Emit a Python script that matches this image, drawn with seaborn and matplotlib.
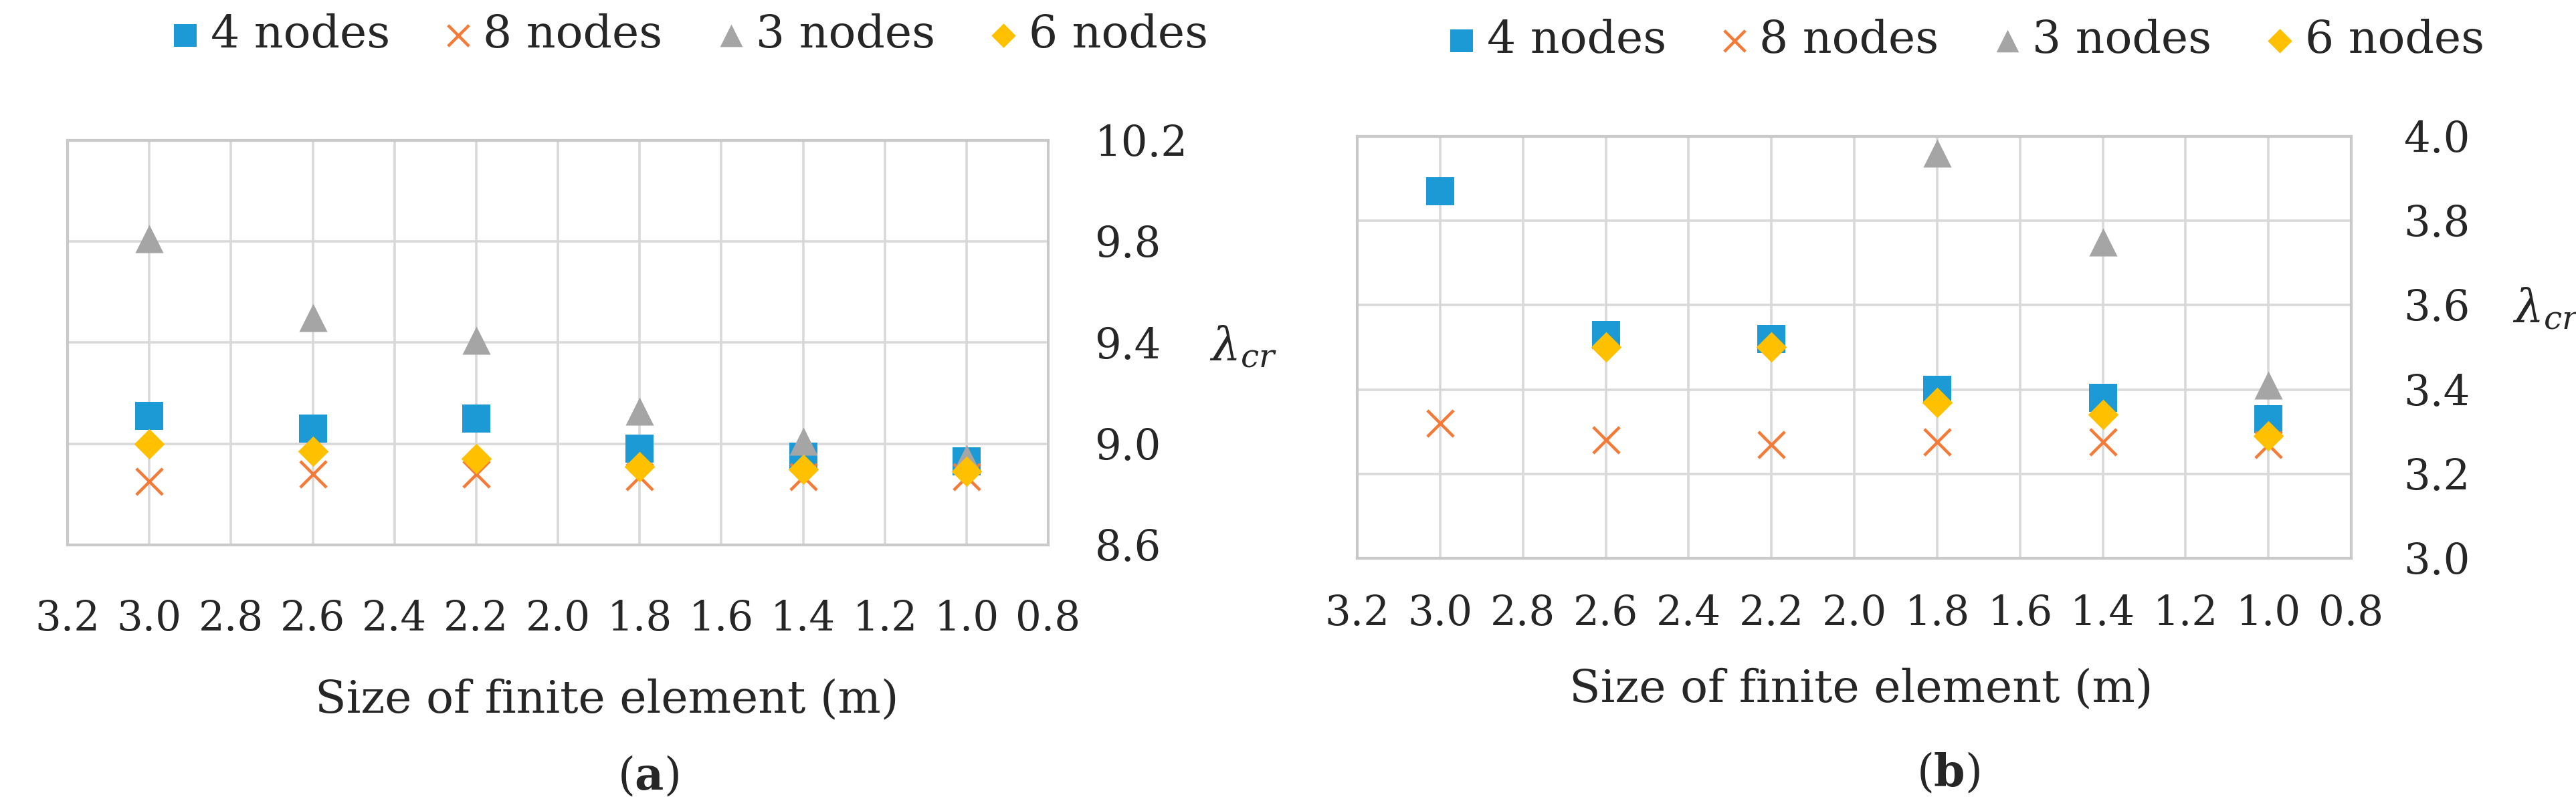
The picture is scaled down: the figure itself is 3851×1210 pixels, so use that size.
import numpy as np
import pandas as pd
import matplotlib
matplotlib.use('Agg')
import matplotlib.pyplot as plt
import seaborn as sns

# element sizes (m) on the x axis
sizes = [3.0, 2.6, 2.2, 1.8, 1.4, 1.0]

# panel (a) critical load factor
n4_a = [9.11, 9.06, 9.10, 8.98, 8.95, 8.93]
n8_a = [8.85, 8.88, 8.88, 8.87, 8.87, 8.87]
n3_a = [9.81, 9.50, 9.41, 9.13, 9.01, 8.94]
n6_a = [9.00, 8.97, 8.94, 8.91, 8.90, 8.89]

# panel (b) critical load factor (missing points are off the chart)
n4_b = [3.87, 3.53, 3.52, 3.40, 3.38, 3.33]
n8_b = [3.32, 3.28, 3.27, 3.275, 3.275, 3.27]
n3_b = [np.nan, np.nan, np.nan, 3.96, 3.75, 3.41]
n6_b = [np.nan, 3.50, 3.50, 3.37, 3.34, 3.29]

series_names = ['4 nodes', '8 nodes', '3 nodes', '6 nodes']
x_ticks = [3.2, 3.0, 2.8, 2.6, 2.4, 2.2, 2.0, 1.8, 1.6, 1.4, 1.2, 1.0, 0.8]
y_ticks_a = [8.6, 9.0, 9.4, 9.8, 10.2]
y_ticks_b = [3.0, 3.2, 3.4, 3.6, 3.8, 4.0]

sns.set_style('white')
plt.rcParams['font.family'] = ['DejaVu Serif']
plt.rcParams['mathtext.fontset'] = 'dejavuserif'

# marker, colour, size, linewidth for each series
styles = {
    '4 nodes': ('s', '#1b9ad6', 920, 0),
    '8 nodes': ('x', '#f47a38', 800, 3.2),
    '3 nodes': ('^', '#a5a5a5', 920, 0),
    '6 nodes': ('D', '#ffc000', 540, 0),
}

fig = plt.figure(figsize=(38.51, 12.10), dpi=100)
ax_a = fig.add_axes([0.02623, 0.32645, 0.38068, 0.5])
ax_b = fig.add_axes([0.52688, 0.30992, 0.38587, 0.52149])


def draw_panel(ax, values, yticks, xpad, ypad, leg_xy, lab_xy, lam_xy):
    for name, vals in zip(series_names, values):
        m, c, s, lw = styles[name]
        sns.scatterplot(x=sizes, y=vals, marker=m, color=c, s=s,
                        linewidth=lw, ax=ax, label=name, zorder=3)
    ax.set_xlim(3.2, 0.8)
    ax.set_ylim(yticks[0], yticks[-1])
    ax.set_xticks(x_ticks)
    ax.set_xticklabels([f'{t:.1f}' for t in x_ticks])
    ax.set_yticks(yticks)
    ax.set_yticklabels([f'{t:.1f}' for t in yticks])
    ax.yaxis.tick_right()
    ax.grid(True, color='#d9d9d9', lw=2.6)
    ax.set_axisbelow(True)
    for sp in ax.spines.values():
        sp.set_color('#c9c9c9')
        sp.set_linewidth(3)
    ax.tick_params(axis='x', length=0, pad=xpad, labelsize=44)
    ax.tick_params(axis='y', length=0, pad=ypad, labelsize=45)
    ax.set_xlabel('Size of finite element (m)', fontsize=49, va='center')
    ax.xaxis.set_label_coords(lab_xy[0], lab_xy[1])
    ax.yaxis.set_label_position('right')
    ax.set_ylabel(r'$\lambda_{cr}$', rotation=0, fontsize=50, va='center', ha='center')
    ax.yaxis.set_label_coords(lam_xy[0], lam_xy[1])
    ax.legend(loc='center', bbox_to_anchor=leg_xy, ncol=4, frameon=False,
              fontsize=49, handletextpad=0.05, columnspacing=1.0,
              handlelength=1.0, markerscale=0.8)


draw_panel(ax_a, [n4_a, n8_a, n3_a, n6_a], y_ticks_a, 58, 50,
           (0.63, 1.26), (0.55, -0.383), (1.199, 0.489))
draw_panel(ax_b, [n4_b, n8_b, n3_b, n6_b], y_ticks_b, 38, 56,
           (0.608, 1.228), (0.507, -0.311), (1.196, 0.59))

fig.text(969 / 3851, 1 - 1162 / 1210, r'($\mathbf{a}$)', fontsize=48, ha='center', va='center')
fig.text(2913 / 3851, 1 - 1157 / 1210, r'($\mathbf{b}$)', fontsize=48, ha='center', va='center')

fig.savefig('out.png', dpi=100)
